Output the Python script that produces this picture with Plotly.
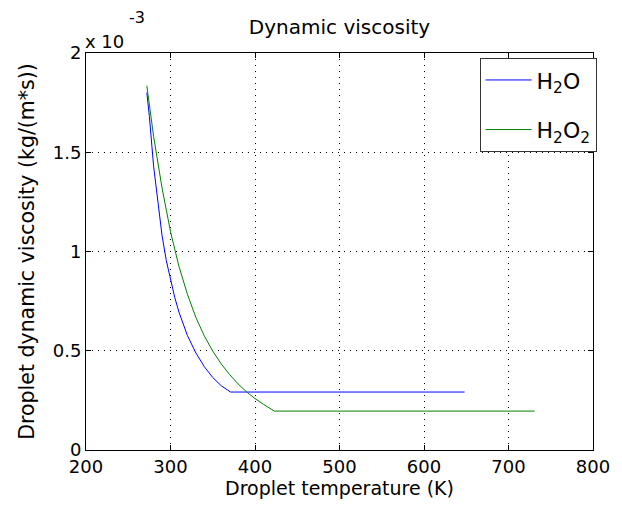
import plotly.graph_objects as go

# Droplet temperature (K) and dynamic viscosity (x 10^-3 kg/(m*s))
temp_h2o = [272, 275, 280, 285, 290, 295, 300, 305, 310, 320, 330, 340, 350, 360, 371, 648]
visc_h2o = [1.80, 1.68, 1.43, 1.24, 1.08, 0.955, 0.853, 0.769, 0.695, 0.577, 0.489, 0.420,
            0.365, 0.324, 0.292, 0.292]

temp_h2o2 = [272, 280, 290, 300, 310, 320, 330, 340, 350, 360, 370, 380, 390, 400, 410, 416,
             423, 731]
visc_h2o2 = [1.835, 1.58, 1.32, 1.10, 0.925, 0.785, 0.668, 0.575, 0.498, 0.434, 0.380, 0.333,
             0.293, 0.259, 0.230, 0.215, 0.196, 0.196]

x_ticks = [200, 300, 400, 500, 600, 700, 800]
y_ticks = [0, 0.5, 1, 1.5, 2]
y_tick_text = ["0", "0.5", "1", "1.5", "2"]

FONT = "DejaVu Sans"

fig = go.Figure()
fig.add_trace(go.Scatter(x=temp_h2o, y=visc_h2o, mode="lines", name="H<sub>2</sub>O",
                         legendgroup="a", line=dict(color="#0000ff", width=1)))
fig.add_trace(go.Scatter(x=temp_h2o2, y=visc_h2o2, mode="lines", name="H<sub>2</sub>O<sub>2</sub>",
                         legendgroup="b", line=dict(color="#008000", width=1)))

axis_common = dict(
    showline=True, linecolor="black", linewidth=1, mirror="allticks",
    ticks="inside", ticklen=5, tickcolor="black",
    showgrid=True, gridcolor="black", gridwidth=1, griddash="1px,5px",
    zeroline=False, tickfont=dict(family=FONT, size=18, color="black"),
)

fig.update_layout(
    width=622, height=512,
    margin=dict(l=86, r=20, t=53, b=62),
    paper_bgcolor="white", plot_bgcolor="white",
    font=dict(family=FONT, color="black"),
    title=dict(text="Dynamic viscosity", x=0.5, xanchor="center", xref="paper",
               y=0.947, yanchor="middle", font=dict(family=FONT, size=20)),
    xaxis=dict(range=[200, 800], tickvals=x_ticks,
               title=dict(text="Droplet temperature (K)", font=dict(size=19), standoff=6),
               **axis_common),
    yaxis=dict(range=[0, 2], tickvals=y_ticks, ticktext=y_tick_text,
               title=dict(text="Droplet dynamic viscosity (kg/(m*s))", font=dict(size=20.5), standoff=12),
               **axis_common),
    legend=dict(x=1.007, y=0.987, xanchor="right", yanchor="top",
                bgcolor="white", bordercolor="#333333", borderwidth=1,
                font=dict(family=FONT, size=22), itemwidth=46, tracegroupgap=18),
    showlegend=True,
)

# Axis exponent label
fig.add_annotation(text="x 10", xref="paper", yref="paper", x=-0.005, y=1.0,
                   xanchor="left", yanchor="bottom", yshift=-1, showarrow=False,
                   font=dict(family=FONT, size=18, color="black"))
fig.add_annotation(text="-3", xref="paper", yref="paper", x=0.080, y=1.0,
                   xanchor="left", yanchor="bottom", yshift=24, showarrow=False,
                   font=dict(family=FONT, size=16, color="black"))

fig.write_html("out.html")
